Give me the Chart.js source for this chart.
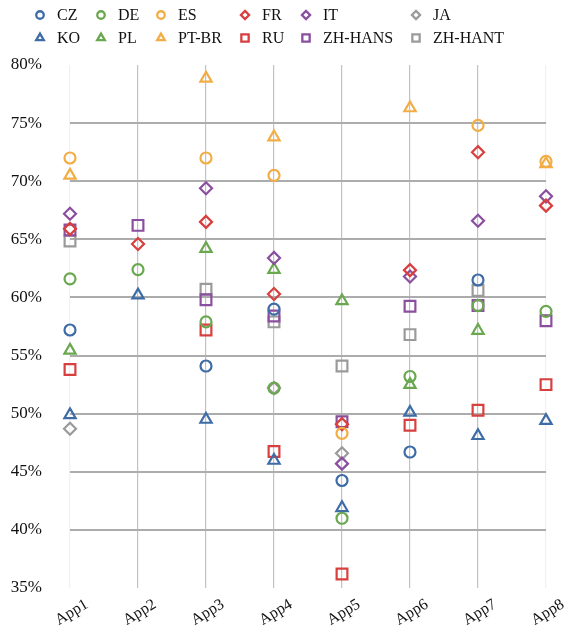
<!DOCTYPE html>
<html>
<head>
<meta charset="utf-8">
<script src="https://cdn.jsdelivr.net/npm/chart.js@4/dist/chart.umd.min.js"></script>
<style>
  html, body { margin: 0; padding: 0; background: #fff; }
  #wrap { width: 565px; height: 629px; position: relative; }
</style>
</head>
<body>
<div id="wrap"><canvas id="chart"></canvas></div>
<script>
// categories
const apps = ['App1', 'App2', 'App3', 'App4', 'App5', 'App6', 'App7', 'App8'];

// series values (%), null = no point
const cz     = [57.2, null, 54.1, 59.0, 44.25, 46.7, 61.5, null];
const de     = [61.6, 62.4, 57.9, 52.2, 41.0, 53.2, 59.3, 58.8];
const es     = [72.0, null, 72.0, 70.5, 48.3, null, 74.8, 71.7];
const fr     = [65.9, 64.6, 66.5, 60.3, 49.1, 62.35, 72.5, 67.9];
const it     = [67.2, null, 69.4, 63.4, 45.7, 61.8, 66.6, 68.7];
const ja     = [48.7, null, null, 52.2, 46.6, null, null, null];
const ko     = [49.9, 60.2, 49.5, 45.97, 41.9, 50.1, 48.1, 49.4];
const pl     = [55.45, null, 64.2, 62.4, 59.7, 52.5, 57.15, null];
const ptbr   = [70.5, null, 78.85, 73.8, null, 76.3, null, 71.5];
const ru     = [53.8, null, 57.2, 46.75, 36.2, 49.0, 50.3, 52.5];
const zhHans = [65.8, 66.2, 59.8, 58.4, 49.3, 59.25, 59.3, 58.0];
const zhHant = [64.85, null, 60.7, 57.9, 54.1, 56.8, 60.6, null];

// y axis ticks
const yMin = 35, yMax = 80, yStep = 5;

const BLUE = '#3d6ca6', GREEN = '#6aa84f', ORANGE = '#f2ad45',
      RED = '#d83f3f', PURPLE = '#8a4f9e', GRAY = '#9a9a9a';

const SERIF = '"Liberation Serif", "Times New Roman", serif';

// 스타일: 마커 모양별 크기
const shapes = {
  circle:   { style: 'circle',   r: 5.5 },
  diamond:  { style: 'rectRot',  r: 6 },
  triangle: { style: 'triangle', r: 6.5 },
  square:   { style: 'rect',     r: 7.6 }
};

function series(label, data, color, shape) {
  const s = shapes[shape];
  return {
    label, data,
    borderColor: color,
    backgroundColor: 'rgba(0,0,0,0)',
    pointStyle: s.style,
    pointRadius: s.r,
    pointHoverRadius: s.r,
    pointBorderWidth: 2.2,
    showLine: false
  };
}

const datasets = [
  series('CZ', cz, BLUE, 'circle'),
  series('DE', de, GREEN, 'circle'),
  series('ES', es, ORANGE, 'circle'),
  series('FR', fr, RED, 'diamond'),
  series('IT', it, PURPLE, 'diamond'),
  series('JA', ja, GRAY, 'diamond'),
  series('KO', ko, BLUE, 'triangle'),
  series('PL', pl, GREEN, 'triangle'),
  series('PT-BR', ptbr, ORANGE, 'triangle'),
  series('RU', ru, RED, 'square'),
  series('ZH-HANS', zhHans, PURPLE, 'square'),
  series('ZH-HANT', zhHant, GRAY, 'square')
];

// 범례: 2행 6열 그리드
const gridLegend = {
  id: 'gridLegend',
  afterDraw(chart, args, opts) {
    const ctx = chart.ctx;
    ctx.save();
    ctx.font = '16px ' + SERIF;
    ctx.textBaseline = 'middle';
    ctx.textAlign = 'left';
    chart.data.datasets.forEach((ds, i) => {
      const col = i % 6, row = Math.floor(i / 6);
      const x = opts.markerX[col], y = opts.rowY[row];
      ctx.fillStyle = 'rgba(0,0,0,0)';
      ctx.strokeStyle = ds.borderColor;
      ctx.lineWidth = 2.3;
      Chart.helpers.drawPoint(ctx, {
        pointStyle: ds.pointStyle,
        radius: ds.pointRadius * 0.68,
        borderWidth: 2.3
      }, x, y);
      ctx.fillStyle = '#111';
      ctx.fillText(ds.label, x + opts.textGap, y + 1);
    });
    ctx.restore();
  }
};

new Chart(document.getElementById('chart'), {
  type: 'line',
  data: { labels: apps, datasets },
  plugins: [gridLegend],
  options: {
    responsive: true,
    maintainAspectRatio: false,
    animation: false,
    layout: { padding: { top: 65, right: 19, left: 0, bottom: 0 } },
    plugins: {
      legend: { display: false },
      tooltip: { enabled: false },
      gridLegend: {
        markerX: [40, 101, 161, 245, 306, 416],
        rowY: [15, 38],
        textGap: 17
      }
    },
    scales: {
      x: {
        offset: false,
        border: { display: false },
        afterFit(scale) { scale.height = 41; },
        grid: {
          drawTicks: false,
          lineWidth: 1.2,
          color: (c) => (c.index === 0 || c.index === apps.length - 1) ? '#f1f1f1' : '#c2c2c2'
        },
        ticks: {
          minRotation: 31,
          maxRotation: 31,
          labelOffset: 17,
          padding: 7,
          color: '#111',
          font: { family: SERIF, size: 16 }
        }
      },
      y: {
        min: yMin,
        max: yMax,
        border: { display: false },
        afterFit(scale) { scale.width = 70; },
        grid: {
          drawTicks: false,
          lineWidth: 2,
          color: (c) => (c.tick.value === yMin || c.tick.value === yMax) ? 'rgba(0,0,0,0)' : '#acacac'
        },
        ticks: {
          stepSize: yStep,
          padding: 28,
          color: '#111',
          font: { family: SERIF, size: 17 },
          callback: (v) => v + '%'
        }
      }
    }
  }
});
</script>
</body>
</html>
